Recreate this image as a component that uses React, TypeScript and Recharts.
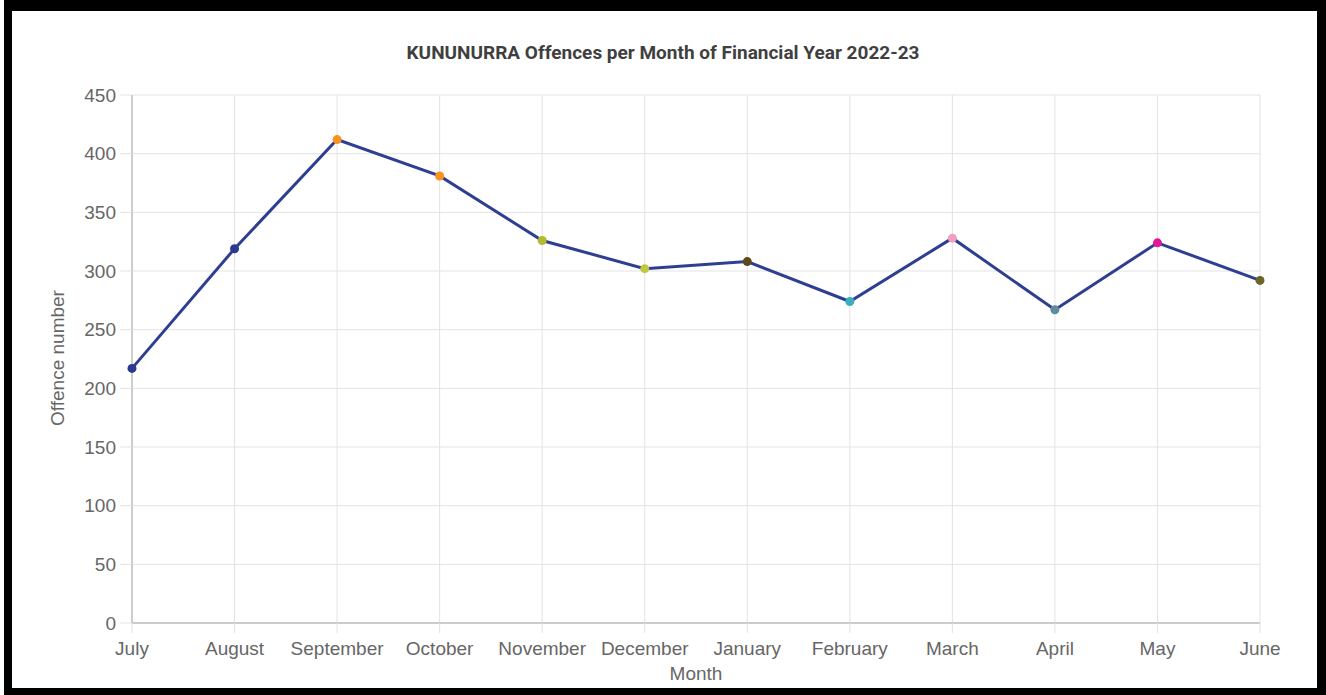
import React from 'react';
import { LineChart, Line, XAxis, YAxis, CartesianGrid } from 'recharts';

const months = ['July', 'August', 'September', 'October', 'November', 'December', 'January', 'February', 'March', 'April', 'May', 'June'];
const offences = [217, 319, 412, 381, 326, 302, 308, 274, 328, 267, 324, 292];
const yTicks = [0, 50, 100, 150, 200, 250, 300, 350, 400, 450];

// one colour per month point, as in the source chart
const pointColors = ['#2b3a8f', '#2b3a8f', '#f7931e', '#f7931e', '#b3bb2c', '#c2c83e', '#5a4a1e', '#3aaebf', '#f49cc4', '#5f8b9b', '#e0189c', '#6b6528'];

const data = months.map((m, i) => ({ month: m, value: offences[i] }));

const tickFont = { fill: '#666', fontSize: 19, fontFamily: 'Liberation Sans, Arial, sans-serif' };

const ColoredDot = (props: any) => {
    const { cx, cy, index } = props;
    if (cx == null || cy == null) return null;
    return <circle key={`dot-${index}`} cx={cx} cy={cy} r={4.5} fill={pointColors[index]} stroke="none" />;
};

const App = () => {
    return (
        <div style={{ position: 'absolute', left: 0, top: 0, width: 1326, height: 695, background: '#fff', overflow: 'hidden' }}>
            {/* black frame */}
            <div style={{
                position: 'absolute', left: 4, top: 0, width: 1322, height: 695, boxSizing: 'border-box',
                borderStyle: 'solid', borderColor: '#000', borderWidth: '11px 9px 7px 8px'
            }} />
            <div style={{
                position: 'absolute', left: 0, top: 41, width: 1326, textAlign: 'center',
                fontFamily: 'Roboto, sans-serif', fontWeight: 700, fontSize: 19, color: '#3f3f3f'
            }}>
                KUNUNURRA Offences per Month of Financial Year 2022-23
            </div>
            <div style={{
                position: 'absolute', left: 58, top: 358, transform: 'translate(-50%, -50%) rotate(-90deg)',
                whiteSpace: 'nowrap', fontFamily: 'Liberation Sans, Arial, sans-serif', fontSize: 19, color: '#666'
            }}>
                Offence number
            </div>
            <div style={{
                position: 'absolute', left: 696, top: 664, transform: 'translateX(-50%)', lineHeight: '20px',
                fontFamily: 'Liberation Sans, Arial, sans-serif', fontSize: 19, color: '#666'
            }}>
                Month
            </div>
            <div style={{ position: 'absolute', left: 0, top: 0 }}>
                <LineChart width={1326} height={695} data={data} margin={{ top: 95, right: 66, bottom: 42, left: 0 }}>
                    <CartesianGrid stroke="#e3e3e3" strokeWidth={1} />
                    <XAxis
                        dataKey="month"
                        tick={tickFont}
                        tickSize={10}
                        tickMargin={9}
                        height={30}
                        axisLine={{ stroke: '#a8a8a8' }}
                        tickLine={{ stroke: '#e3e3e3' }}
                        interval={0}
                    />
                    <YAxis
                        domain={[0, 450]}
                        ticks={yTicks}
                        width={132}
                        tick={tickFont}
                        tickSize={12}
                        tickMargin={4}
                        axisLine={{ stroke: '#a8a8a8' }}
                        tickLine={{ stroke: '#e3e3e3' }}
                    />
                    <Line
                        type="linear"
                        dataKey="value"
                        stroke="#2e3f91"
                        strokeWidth={3}
                        dot={<ColoredDot />}
                        activeDot={false}
                        isAnimationActive={false}
                    />
                </LineChart>
            </div>
        </div>
    );
};

export default App;
